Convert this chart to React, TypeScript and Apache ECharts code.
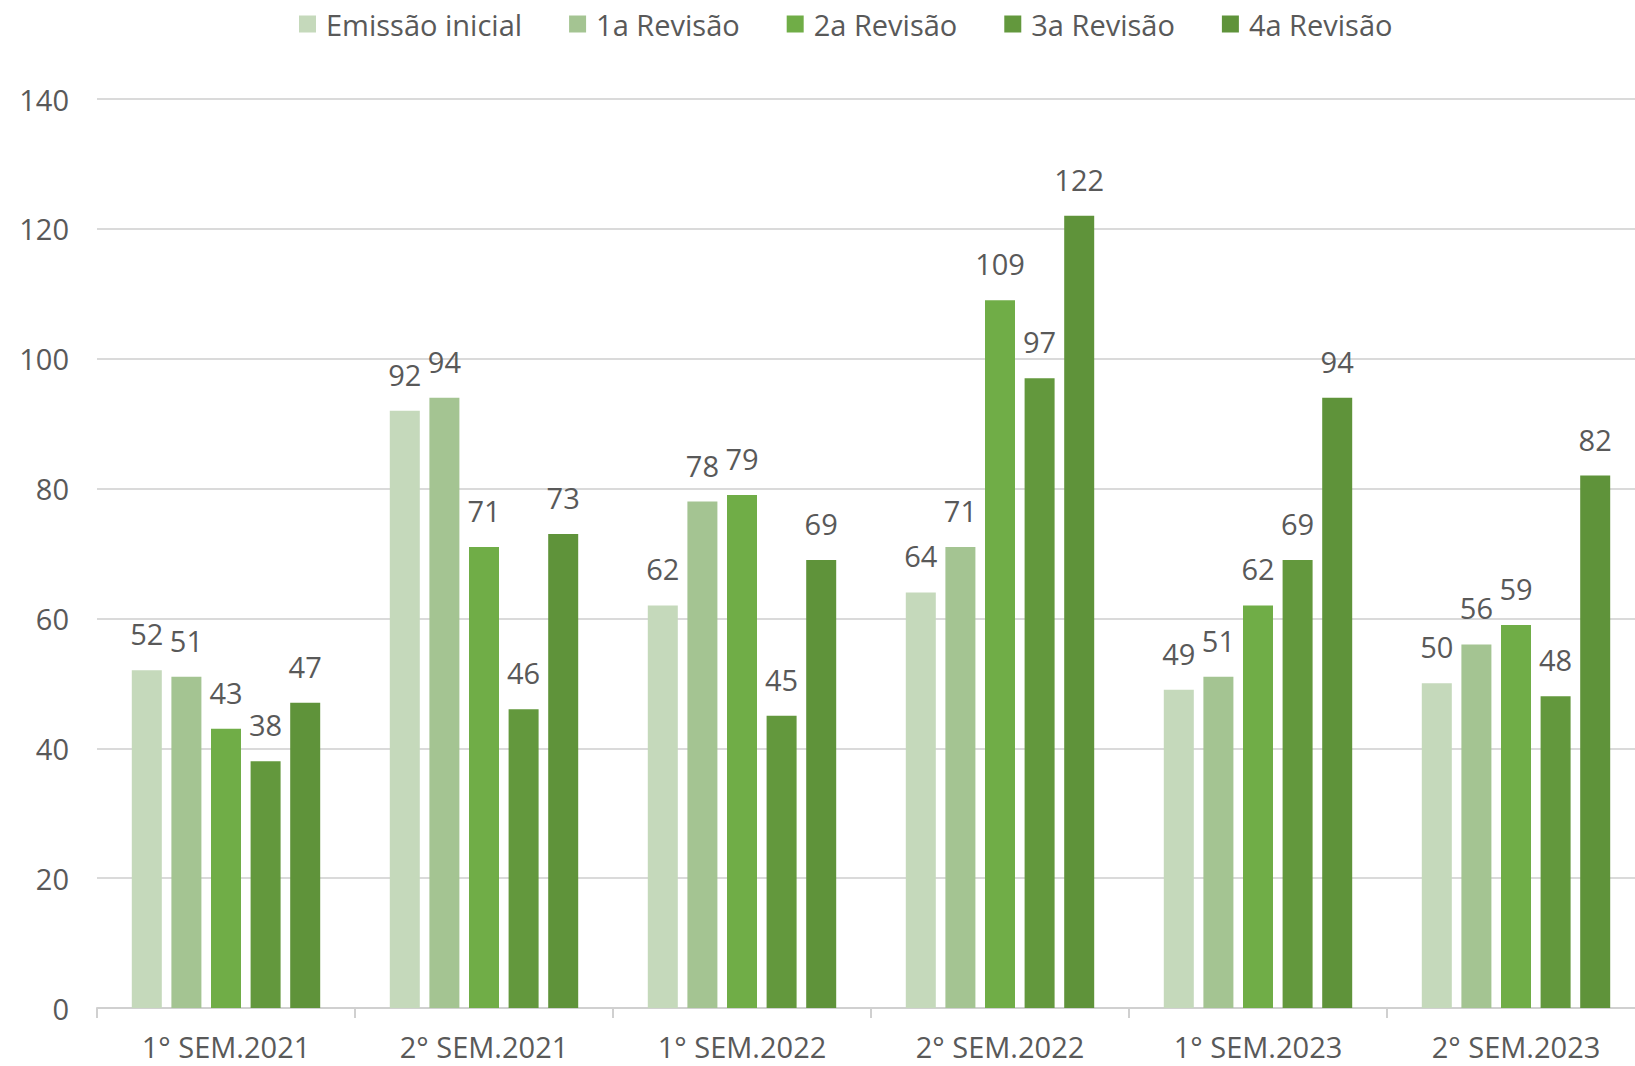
import React, { useEffect, useRef } from "react";
import * as echarts from "echarts";

const categories = ["1° SEM.2021", "2° SEM.2021", "1° SEM.2022", "2° SEM.2022", "1° SEM.2023", "2° SEM.2023"];
const seriesNames = ["Emissão inicial", "1a Revisão", "2a Revisão", "3a Revisão", "4a Revisão"];
const emissaoInicial = [52, 92, 62, 64, 49, 50];
const revisao1 = [51, 94, 78, 71, 51, 56];
const revisao2 = [43, 71, 79, 109, 62, 59];
const revisao3 = [38, 46, 45, 97, 69, 48];
const revisao4 = [47, 73, 69, 122, 94, 82];
const colors = ["#C5D9BB", "#A4C492", "#70AD47", "#63983D", "#5F933A"];

const FONT = "Open Sans";
const TXT = "#595959";

export default function App() {
  const ref = useRef<HTMLDivElement>(null);
  useEffect(() => {
    if (!ref.current) return;
    const chart = echarts.init(ref.current, undefined, { renderer: "svg" });
    const values = [emissaoInicial, revisao1, revisao2, revisao3, revisao4];
    chart.setOption({
      animation: false,
      textStyle: { fontFamily: FONT },
      legend: {
        top: 2,
        left: 294,
        itemWidth: 17,
        itemHeight: 17,
        itemGap: 47,
        icon: "rect",
        textStyle: { fontFamily: FONT, fontSize: 29, color: TXT, lineHeight: 34, padding: [0, 0, 0, 5] },
        data: seriesNames,
      },
      grid: { left: 97, right: 15, top: 99, bottom: 58, containLabel: false },
      xAxis: {
        type: "category",
        data: categories,
        axisLine: { show: true, lineStyle: { color: "#D0D0D0", width: 2 } },
        axisTick: { show: true, length: 10, lineStyle: { color: "#D0D0D0", width: 2 } },
        axisLabel: { fontFamily: FONT, fontSize: 29, lineHeight: 29, color: TXT, margin: 24 },
      },
      yAxis: {
        type: "value",
        min: 0,
        max: 140,
        interval: 20,
        axisLine: { show: false },
        axisTick: { show: false },
        axisLabel: { fontFamily: FONT, fontSize: 29, color: TXT, margin: 28 },
        splitLine: { lineStyle: { color: "#DADADA", width: 2 } },
      },
      series: seriesNames.map((name, i) => ({
        name,
        type: "bar",
        data: values[i],
        barWidth: 30,
        barGap: "32%",
        itemStyle: { color: colors[i] },
        label: {
          show: true,
          position: "top",
          distance: 19,
          fontFamily: FONT,
          fontSize: 29,
          lineHeight: 35,
          color: TXT,
        },
      })),
    });
    return () => chart.dispose();
  }, []);
  return (
    <div style={{ position: "absolute", left: 0, top: 0, width: 1635, height: 1066, overflow: "hidden", background: "#fff" }}>
      <div ref={ref} style={{ width: 1660, height: 1066 }} />
    </div>
  );
}
